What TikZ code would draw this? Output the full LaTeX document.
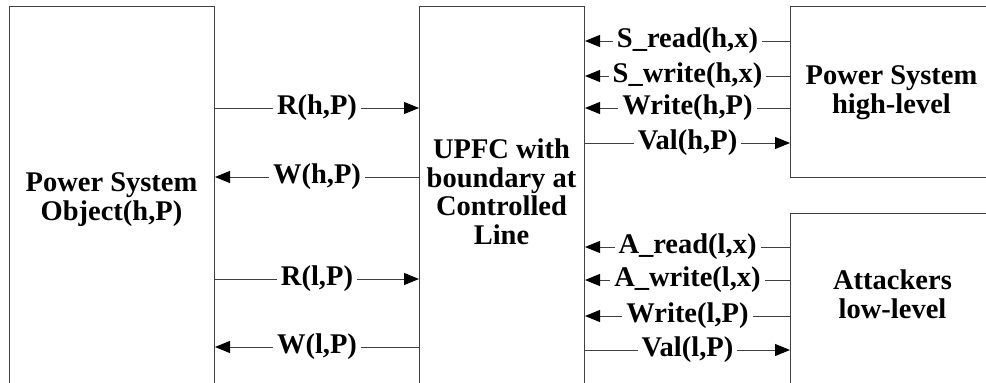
\documentclass[tikz,border=0pt]{standalone}
\usepackage{fontspec}
\setmainfont{Liberation Serif}[BoldFont={Liberation Serif Bold}]
\usetikzlibrary{arrows.meta}
\begin{document}
\begin{tikzpicture}[x=1pt,y=-1pt,
  box/.style={draw=black!75, line width=1pt, inner sep=0pt, anchor=north west},
  txt/.style={align=center, font=\bfseries\fontsize{28.5}{28.5}\selectfont, inner sep=0pt},
  lab/.style={fill=white, font=\bfseries\fontsize{28.5}{28.5}\selectfont, inner xsep=4pt, inner ysep=0pt},
  conn/.style={draw=black!75, line width=1pt},
  tip/.style={-{Triangle[length=15pt,width=12pt,color=black]}}
]
\useasboundingbox (0,0) rectangle (986,383);
% boxes
\node[box, minimum width=205pt, minimum height=420pt] (L) at (9,6) {};
\node[box, minimum width=165pt, minimum height=420pt] (M) at (419,6) {};
\node[box, minimum width=220pt, minimum height=171pt] (H) at (790,6) {};
\node[box, minimum width=220pt, minimum height=220pt] (A) at (790,213) {};
% box texts
\node[txt] (Lt) at (111.5,199.5) {Power System\\Object(h,P)};
\node[txt] (Mt) at (501.5,191.8) {UPFC with\\boundary at\\Controlled\\Line};
\node[txt] (Ht) at (891.5,92.5) {Power System\\high-level};
\node[txt] (At) at (892.5,294.3) {Attackers\\low-level};
% rows
\coordinate (yRh) at (0,108);
\coordinate (yWh) at (0,177);
\coordinate (yRl) at (0,279);
\coordinate (yWl) at (0,347);
\coordinate (ySr) at (0,41);
\coordinate (ySw) at (0,76);
\coordinate (yWrh) at (0,108);
\coordinate (yVh) at (0,143);
\coordinate (yAr) at (0,247);
\coordinate (yAw) at (0,280);
\coordinate (yWrl) at (0,316);
\coordinate (yVl) at (0,350);
% left connectors
\draw[conn,tip] (L.east |- yRh) -- node[lab]{R(h,P)} (M.west |- yRh);
\draw[conn,tip] (M.west |- yWh) -- node[lab]{W(h,P)} (L.east |- yWh);
\draw[conn,tip] (L.east |- yRl) -- node[lab]{R(l,P)} (M.west |- yRl);
\draw[conn,tip] (M.west |- yWl) -- node[lab]{W(l,P)} (L.east |- yWl);
% right connectors (high)
\draw[conn,tip] (H.west |- ySr) -- node[lab]{S\_read(h,x)} (M.east |- ySr);
\draw[conn,tip] (H.west |- ySw) -- node[lab]{S\_write(h,x)} (M.east |- ySw);
\draw[conn,tip] (H.west |- yWrh) -- node[lab]{Write(h,P)} (M.east |- yWrh);
\draw[conn,tip] (M.east |- yVh) -- node[lab]{Val(h,P)} (H.west |- yVh);
% right connectors (low)
\draw[conn,tip] (A.west |- yAr) -- node[lab]{A\_read(l,x)} (M.east |- yAr);
\draw[conn,tip] (A.west |- yAw) -- node[lab]{A\_write(l,x)} (M.east |- yAw);
\draw[conn,tip] (A.west |- yWrl) -- node[lab]{Write(l,P)} (M.east |- yWrl);
\draw[conn,tip] (M.east |- yVl) -- node[lab]{Val(l,P)} (A.west |- yVl);
\end{tikzpicture}
\end{document}
